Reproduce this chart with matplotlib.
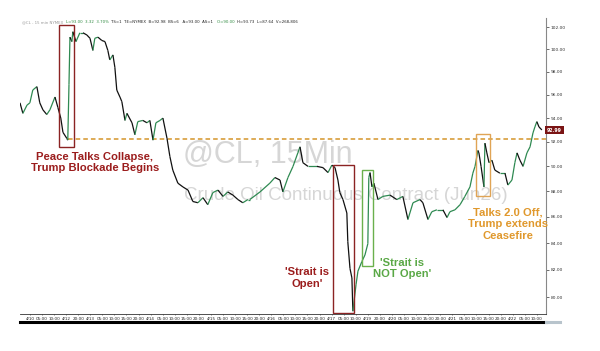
import matplotlib
matplotlib.use('Agg')
import matplotlib.pyplot as plt
from matplotlib.collections import LineCollection
from matplotlib.patches import Rectangle
from matplotlib.ticker import FixedLocator, NullLocator
import numpy as np

# time axis: trading hours from 4/10 00:00 (weekends squeezed out), price in USD
hours = [-4.1, -2.9, -1.2, 0.0, 1.2, 2.9, 4.1, 5.4, 7.0, 8.3, 10.4, 11.6, 12.8, 13.7, 15.3, 15.7,
         16.2, 16.6, 17.4, 17.8, 19.1, 20.7, 22.0, 23.6, 24.9, 26.1, 26.9, 28.2, 29.8, 31.1, 32.3,
         33.1, 34.4, 35.2, 36.0, 37.3, 38.1, 39.4, 40.2, 42.3, 43.5, 44.7, 46.8, 48.5, 49.7, 51.0,
         52.2, 53.9, 55.1, 56.8, 58.0, 59.2, 61.3, 63.4, 65.5, 67.5, 69.6, 71.7, 73.7, 75.8, 77.9,
         80.0, 82.0, 84.1, 86.2, 88.2, 90.3, 91.1, 95.3, 99.4, 101.5, 103.6, 104.8, 106.9, 109.0,
         111.0, 111.9, 113.1, 115.2, 118.9, 121.4, 123.5, 125.1, 126.4, 127.6, 128.4, 129.7, 131.3,
         131.7, 132.6, 133.4, 133.8, 135.1, 135.9, 137.5, 138.8, 140.0,
         140.4, 140.9, 141.7, 142.5, 144.2, 146.2, 149.2, 152.0, 154.5, 156.6, 158.7, 161.6, 162.8,
         164.9, 166.5, 168.6, 171.1, 172.8, 174.0, 176.1, 178.2, 180.2, 182.3, 183.5, 184.4, 185.6,
         186.0, 186.9, 187.7, 188.1, 188.5, 189.3, 190.2, 191.4, 192.6, 194.7, 196.8, 198.0, 199.7,
         200.9, 201.8, 203.0, 204.3, 205.9, 207.2, 208.4, 209.2, 210.0, 210.9, 212.1]
prices = [95.3, 94.4, 95.1, 95.3, 96.4, 96.7, 95.3, 94.7, 94.3, 94.7, 95.8, 94.9, 94.0, 92.8, 92.3, 92.15,
          96.9, 101.1, 100.7, 101.6, 100.7, 101.5, 101.5, 101.3, 101.0, 99.9, 101.0, 101.1, 100.8, 100.7, 99.9,
          99.05, 99.5, 98.4, 96.4, 95.8, 95.4, 93.8, 94.4, 93.6, 92.6, 93.7, 93.8, 93.6, 93.8, 92.15,
          93.6, 93.8, 94.0, 92.3, 90.8, 89.7, 88.65, 88.35, 88.1, 87.2, 87.1, 87.5, 86.95, 87.9, 88.1,
          87.6, 87.95, 87.7, 87.35, 87.1, 87.35, 87.35, 87.95, 88.65, 89.1, 88.9, 87.95, 89.1, 90.0,
          91.1, 91.6, 90.3, 90.0, 90.0, 89.9, 89.5, 90.1, 89.9, 88.9, 87.9, 87.35, 86.3,
          84.1, 82.1, 81.4, 79.0, 80.9, 81.9, 82.6, 83.1, 83.95,
          89.1, 89.5, 88.35, 88.65, 87.35, 87.6, 87.7, 87.35, 87.6, 85.8, 87.1, 87.35, 87.1,
          85.8, 86.4, 86.55, 86.55, 85.95, 86.4, 86.55, 86.95, 87.6, 88.35, 89.45, 90.0, 91.3,
          91.1, 90.0, 88.9, 88.35, 91.9, 91.1, 90.3, 90.5, 89.7, 89.45, 89.45, 88.5, 88.9,
          90.3, 91.1, 90.5, 90.0, 91.1, 91.6, 92.75, 93.25, 93.7, 93.25, 93.0]

x_labels = ['4/10', '05:00', '10:00', '4/12', '20:00', '4/13', '05:00', '10:00', '15:00', '20:00',
            '4/14', '05:00', '10:00', '15:00', '20:00', '4/15', '05:00', '10:00', '15:00', '20:00',
            '4/16', '05:00', '10:00', '15:00', '20:00', '4/17', '05:00', '10:00', '4/19', '20:00',
            '4/20', '05:00', '10:00', '15:00', '20:00', '4/21', '05:00', '10:00', '15:00', '20:00',
            '4/22', '05:00', '10:00']
y_ticks = [80, 82, 84, 86, 88, 90, 92, 94, 96, 98, 100, 102]
last_price = 92.99
support = 92.25
header = [('@CL - 15 min NYMEX  ', '#999999'), ('L=93.00  3.32  3.70%  ', '#2f8a40'),
          ('TS=1  TE=NYMEX  B=92.98  BS=6   A=93.00  AS=1   ', '#222222'),
          ('O=90.00  ', '#2f8a40'), ('H=93.73  L=87.64  V=268,806', '#222222')]

RED = '#9b1d1d'
GREEN = '#5aa846'
ORANGE = '#e0982c'

fig = plt.figure(figsize=(6, 3.51), dpi=100)
ax = fig.add_axes([0.0333, 0.1054, 0.8767, 0.8433])
ax.set_yscale('log')
ax.set_xlim(-4.1, 213.8)
ax.set_ylim(78.8, 102.86)

# price line, green on up moves, black on down moves
pts = np.column_stack([hours, prices])
segs = np.stack([pts[:-1], pts[1:]], axis=1)
cols = ['#2f8a52' if b >= a else '#111111' for a, b in zip(prices[:-1], prices[1:])]
ax.add_collection(LineCollection(segs, colors=cols, linewidths=0.9, zorder=3))

# watermark
ax.text(98.6, 90.9, '@CL, 15Min', fontsize=22, color='#d6d6d6', ha='center', va='center',
        family='Liberation Sans', zorder=1)
ax.text(131, 87.7, 'Crude Oil Continuous Contract (Jun26)', fontsize=13.5, color='#d6d6d6',
        ha='center', va='center', family='Liberation Sans', zorder=1)

# support line
ax.plot([15.7, 213.8], [support, support], color='#d4952a', lw=1.1, ls=(0, (3, 2)), zorder=2,
        clip_on=False)

# annotation boxes
ax.add_patch(Rectangle((12.0, 91.6), 6.2, 102.2 - 91.6, fill=False, ec='#8b2323', lw=1.0, zorder=4))
ax.add_patch(Rectangle((125.5, 78.85), 8.8, 90.1 - 78.85, fill=False, ec='#8b2323', lw=1.0, zorder=4))
ax.add_patch(Rectangle((137.5, 82.3), 4.6, 89.7 - 82.3, fill=False, ec='#6ab04c', lw=1.0, zorder=4))
ax.add_patch(Rectangle((184.8, 87.6), 6.0, 92.7 - 87.6, fill=False, ec='#e0a455', lw=1.0, zorder=4))

tk = dict(fontsize=8.1, fontweight='bold', family='Liberation Sans', ha='center', va='center',
          linespacing=1.2, zorder=5)
ax.text(26.9, 90.3, 'Peace Talks Collapse,\nTrump Blockade Begins', color=RED, **tk)
ax.text(114.8, 81.4, "'Strait is\nOpen'", color=RED, **tk)
ax.text(154.1, 82.1, "'Strait is\nNOT Open'", color=GREEN, **tk)
ax.text(198, 85.45, 'Talks 2.0 Off,\nTrump extends\nCeasefire', color=ORANGE, **tk)

# axes styling
for s in ['top', 'left']:
    ax.spines[s].set_visible(False)
ax.spines['right'].set_color('#888888')
ax.spines['right'].set_linewidth(0.8)
ax.spines['bottom'].set_color('#333333')
ax.spines['bottom'].set_linewidth(0.6)
ax.yaxis.tick_right()
ax.yaxis.set_major_locator(FixedLocator(y_ticks))
ax.yaxis.set_minor_locator(NullLocator())
ax.set_yticklabels([f'{v:.2f}' for v in y_ticks])
ax.tick_params(axis='y', labelsize=3.2, length=2, width=0.5, pad=1.5, colors='#333333')
ax.set_xticks(np.arange(len(x_labels)) * 5)
ax.set_xticklabels(x_labels)
ax.tick_params(axis='x', labelsize=3, length=1, width=0.4, pad=1, colors='#222222')

# last price tag
ax.text(1.002, last_price, f'{last_price:.2f}', transform=ax.get_yaxis_transform(), fontsize=3.4,
        color='white', fontweight='bold', va='center', ha='left', zorder=6, clip_on=False,
        bbox=dict(boxstyle='square,pad=0.35', fc='#7a1414', ec='none'))

# header line, pieces chained one after another
prev = fig.text(22 / 600, 1 - 22 / 351, header[0][0], fontsize=2.8, color=header[0][1], va='center')
for txt, c in header[1:]:
    prev = ax.annotate(txt, xy=(1, 0.5), xycoords=prev, va='center', ha='left',
                       fontsize=2.8, color=c)

# scrollbar under the time axis
fig.add_artist(plt.Line2D([20 / 600, 546 / 600], [1 - 322 / 351] * 2, color='black', lw=2.2))
fig.add_artist(plt.Line2D([546 / 600, 560 / 600], [1 - 322 / 351] * 2, color='#b8c4cc', lw=2.2))

fig.savefig('out.png', dpi=100)
